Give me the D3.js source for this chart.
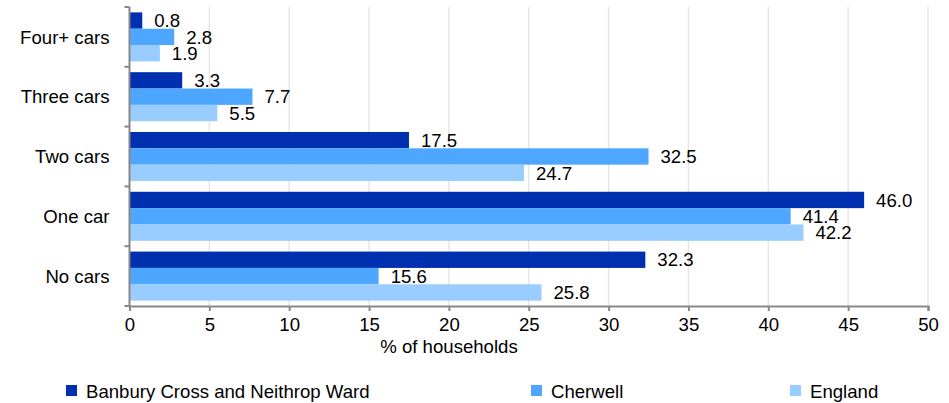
<!DOCTYPE html>
<html><head><meta charset="utf-8">
<script src="https://cdn.jsdelivr.net/npm/d3@7"></script>
<style>
html,body{margin:0;padding:0;background:#fff;}
text{font-family:"Liberation Sans",Arial,sans-serif;fill:#000;}
</style></head>
<body>
<svg id="chart" width="949" height="403"></svg>
<script>
const categories = ["Four+ cars","Three cars","Two cars","One car","No cars"];
const seriesNames = ["Banbury Cross and Neithrop Ward","Cherwell","England"];
const banbury = [0.8, 3.3, 17.5, 46.0, 32.3];
const cherwell = [2.8, 7.7, 32.5, 41.4, 15.6];
const england = [1.9, 5.5, 24.7, 42.2, 25.8];
const xTicks = [0,5,10,15,20,25,30,35,40,45,50];
const colors = ["#0030b0","#4da6ff","#99ccff"];
const xTitle = "% of households";

(function(){
const FS = 18.6;
const series = [banbury, cherwell, england];
const svg = d3.select("#chart");
const pL = 129.5, pR = 928, pT = 7, pB = 306;
const x = d3.scaleLinear().domain([0,50]).range([pL,pR]);
const y = d3.scaleBand().domain(categories).range([pT,pB]).paddingInner(0.18).paddingOuter(0.09);
const yb = d3.scaleBand().domain(categories).range([pT,pB]);
const ys = d3.scaleBand().domain(seriesNames).range([0,y.bandwidth()]);

svg.append("g").selectAll("line").data(xTicks.filter(d=>d>0)).join("line")
  .attr("x1",d=>x(d)).attr("x2",d=>x(d)).attr("y1",pT).attr("y2",pB)
  .attr("stroke","#e6e6e6").attr("stroke-width",1.5);

seriesNames.forEach((name,si)=>{
  svg.append("g").selectAll("rect").data(categories).join("rect")
    .attr("x",x(0)).attr("y",(c)=>y(c)+ys(name))
    .attr("width",(c,i)=>x(series[si][i])-x(0)).attr("height",ys.bandwidth())
    .attr("fill",colors[si]);
});
seriesNames.forEach((name,si)=>{
  svg.append("g").selectAll("text").data(categories).join("text")
    .attr("x",(c,i)=>x(series[si][i])+12)
    .attr("y",(c)=>y(c)+ys(name)+ys.bandwidth()/2)
    .attr("dy","0.36em").attr("font-size",FS)
    .text((c,i)=>series[si][i].toFixed(1));
});

const xa = svg.append("g").attr("transform",`translate(0,${pB})`)
  .call(d3.axisBottom(x).tickValues(xTicks).tickSize(5).tickPadding(7).tickFormat(d3.format("d")));
xa.select(".domain").attr("stroke","#888").attr("stroke-width",2);
xa.selectAll(".tick line").attr("stroke","#888").attr("stroke-width",2);
xa.selectAll(".tick text").attr("font-size",FS).attr("font-family","Liberation Sans, Arial, sans-serif").attr("fill","#000");

const ya = svg.append("g").attr("transform",`translate(${pL},0)`);
ya.append("line").attr("x1",0).attr("x2",0).attr("y1",pT).attr("y2",pB).attr("stroke","#888").attr("stroke-width",2);
const bounds = categories.map(c=>yb(c)).concat([pB]);
ya.selectAll("line.t").data(bounds).join("line").attr("class","t")
  .attr("x1",-5).attr("x2",0).attr("y1",d=>d).attr("y2",d=>d).attr("stroke","#888").attr("stroke-width",2);
ya.selectAll("text").data(categories).join("text")
  .attr("x",-20).attr("y",c=>yb(c)+yb.bandwidth()/2).attr("dy","0.36em")
  .attr("text-anchor","end").attr("font-size",FS).text(c=>c);

svg.append("text").attr("x",449).attr("y",353).attr("text-anchor","middle").attr("font-size",FS).text(xTitle);

const legX = [66,531,790];
seriesNames.forEach((name,i)=>{
  svg.append("rect").attr("x",legX[i]).attr("y",385).attr("width",11).attr("height",11).attr("fill",colors[i]);
  svg.append("text").attr("x",legX[i]+20).attr("y",391).attr("dy","0.36em").attr("font-size",FS).text(name);
});
})();
</script>
</body></html>
